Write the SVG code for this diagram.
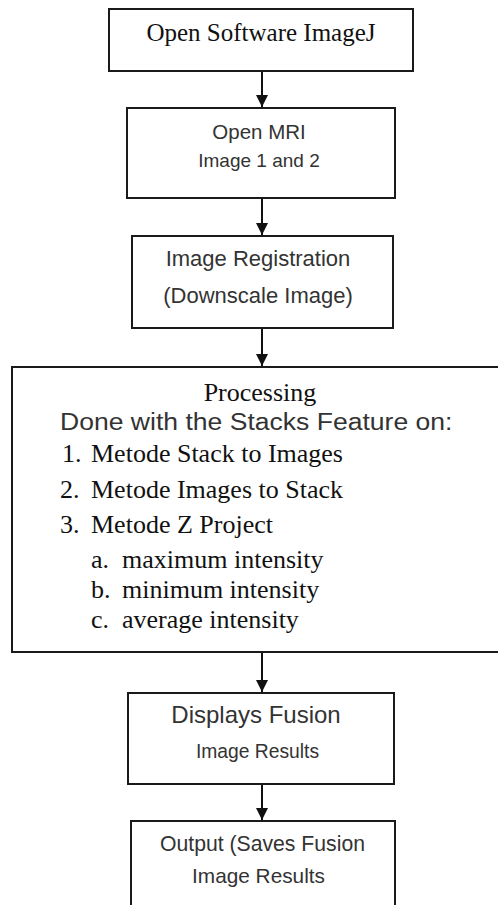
<svg xmlns="http://www.w3.org/2000/svg" width="498" height="905" viewBox="0 0 498 905">
<defs>
<style>
.box{fill:#fff;stroke:#1a1a1a;stroke-width:2}
.serif{font-family:"Liberation Serif","Times New Roman",serif;fill:#111}
.sans{font-family:"Liberation Sans",Arial,sans-serif;fill:#333}
.mid{text-anchor:middle}
.conn{stroke:#111;stroke-width:2;fill:none}
</style>
<marker id="ah" viewBox="0 0 12 12" refX="12" refY="6" markerWidth="12" markerHeight="12" markerUnits="userSpaceOnUse" orient="auto">
<path d="M0,0 L12,6 L0,12 Z" fill="#111"/>
</marker>
</defs>
<rect width="498" height="905" fill="#fff"/>
<g id="connectors">
<line class="conn" x1="262" y1="71" x2="262" y2="107" marker-end="url(#ah)"/>
<line class="conn" x1="262" y1="199" x2="262" y2="235" marker-end="url(#ah)"/>
<line class="conn" x1="262" y1="329" x2="262" y2="366" marker-end="url(#ah)"/>
<line class="conn" x1="262" y1="653" x2="262" y2="692" marker-end="url(#ah)"/>
<line class="conn" x1="262" y1="785" x2="262" y2="820" marker-end="url(#ah)"/>
</g>
<g id="n1">
<rect class="box" x="109" y="9" width="304" height="62"/>
<text class="serif mid" x="261" y="41" font-size="25">Open Software ImageJ</text>
</g>
<g id="n2">
<rect class="box" x="127" y="108" width="268" height="90"/>
<text class="sans mid" x="259" y="139" font-size="20.5">Open MRI</text>
<text class="sans mid" x="259" y="167" font-size="19">Image 1 and 2</text>
</g>
<g id="n3">
<rect class="box" x="132" y="236" width="261" height="92"/>
<text class="sans mid" x="258" y="266" font-size="22">Image Registration</text>
<text class="sans mid" x="258" y="303" font-size="22">(Downscale Image)</text>
</g>
<g id="n4">
<rect class="box" x="12" y="367" width="500" height="285"/>
<text class="serif mid" x="260" y="401" font-size="26">Processing</text>
<text class="sans" transform="translate(60,430) scale(1.13,1)" x="0" y="0" font-size="23.5">Done with the Stacks Feature on:</text>
<text class="serif" y="462" font-size="26"><tspan x="62">1.</tspan><tspan x="91">Metode Stack to Images</tspan></text>
<text class="serif" y="498" font-size="26"><tspan x="60">2.</tspan><tspan x="91">Metode Images to Stack</tspan></text>
<text class="serif" y="533" font-size="26"><tspan x="60">3.</tspan><tspan x="91">Metode Z Project</tspan></text>
<text class="serif" y="568" font-size="26"><tspan x="91">a.</tspan><tspan x="122">maximum intensity</tspan></text>
<text class="serif" y="598" font-size="26"><tspan x="91">b.</tspan><tspan x="122">minimum intensity</tspan></text>
<text class="serif" y="628" font-size="26"><tspan x="91">c.</tspan><tspan x="122">average intensity</tspan></text>
</g>
<g id="n5">
<rect class="box" x="128" y="693" width="266" height="91"/>
<text class="sans mid" x="256" y="723" font-size="24">Displays Fusion</text>
<text class="sans mid" x="257.5" y="758" font-size="19.3">Image Results</text>
</g>
<g id="n6">
<rect class="box" x="131" y="821" width="264" height="100"/>
<text class="sans mid" x="262.5" y="851" font-size="21.2">Output (Saves Fusion</text>
<text class="sans mid" x="258.5" y="883" font-size="20.8">Image Results</text>
</g>
</svg>
